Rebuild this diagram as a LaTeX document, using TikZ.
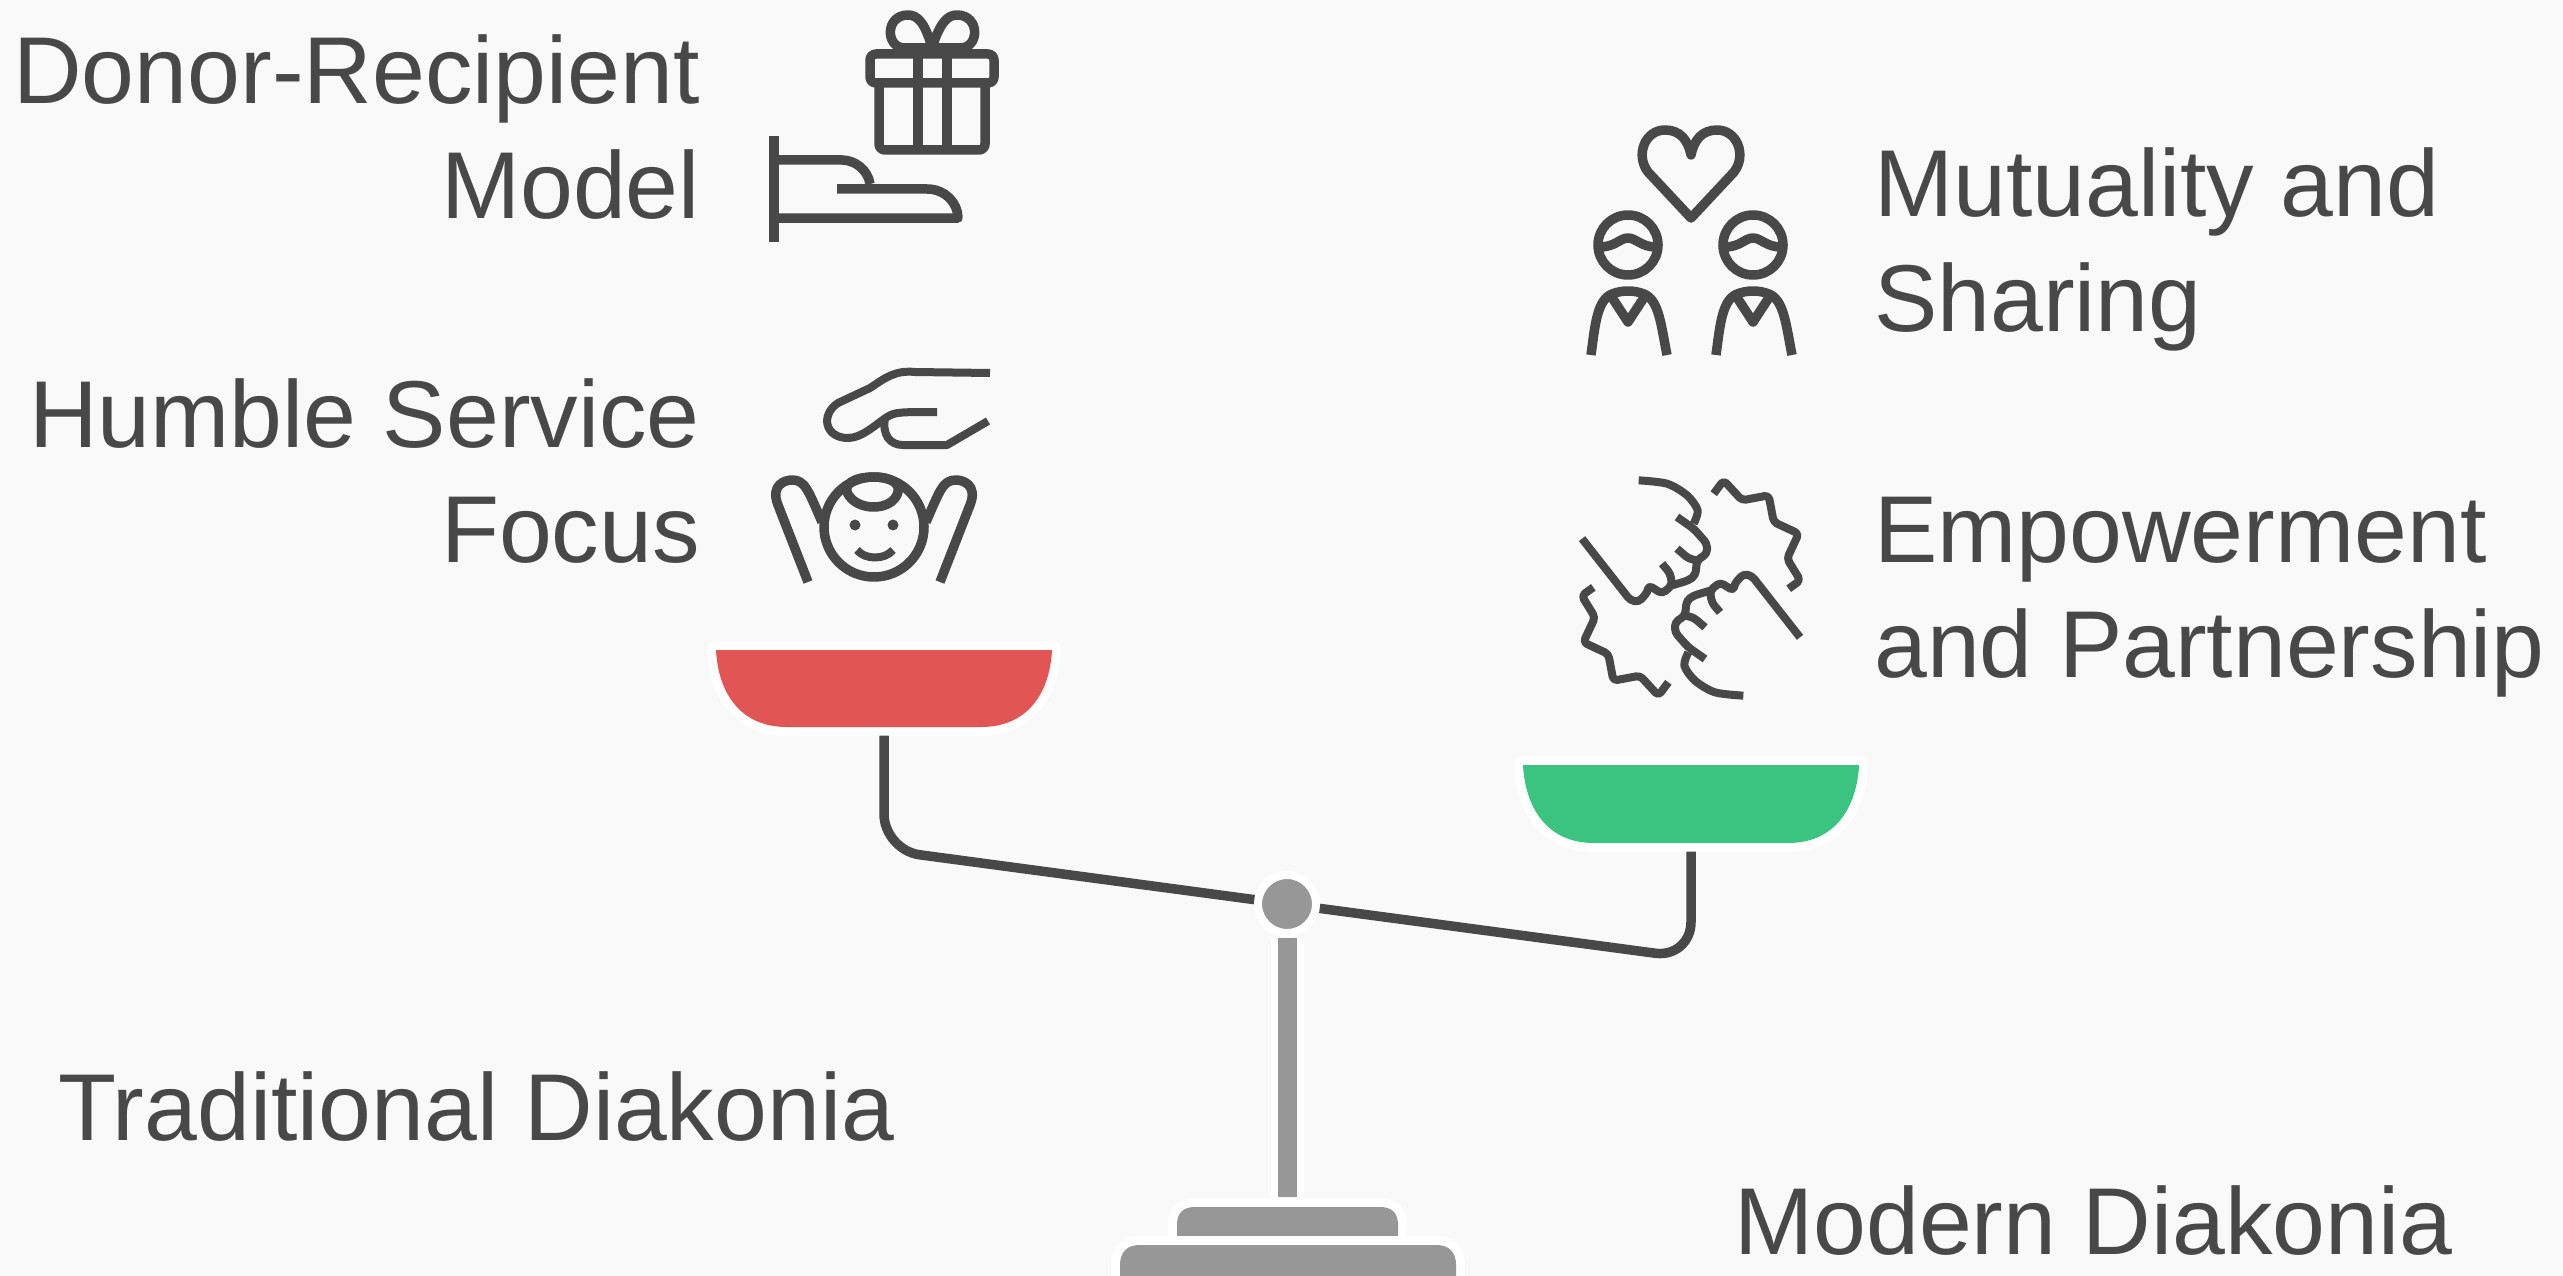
\documentclass[tikz,border=0pt]{standalone}
\usepackage{fontspec}
\setmainfont{Liberation Sans}
\definecolor{pagebg}{HTML}{F9F9F9}
\definecolor{inkgray}{HTML}{484848}
\definecolor{standgray}{HTML}{979797}
\definecolor{panred}{HTML}{E15554}
\definecolor{pangreen}{HTML}{3BC480}
\tikzset{
    label/.style={text=inkgray, inner sep=0pt, font=\fontsize{95}{115}\selectfont},
    icon/.style={draw=inkgray, line width=9.5, line join=round},
    halo/.style={preaction={draw=white, line width=18, line join=round}},
    panbox/.style={shape=rectangle, minimum width=336, minimum height=77, inner sep=0pt, outer sep=9pt},
    beam/.style={draw=inkgray, line width=9.5, rounded corners=36},
}
\begin{document}
\begin{tikzpicture}[x=1pt, y=-1pt]
    \fill[pagebg] (0,0) rectangle (2563,1276);
    \useasboundingbox (0,0) rectangle (2563,1276);

    % labels
    \node[label, align=right, anchor=north east] (donor)  at (700,34)   {Donor-Recipient\\Model};
    \node[label, align=right, anchor=north east] (humble) at (700,378)  {Humble Service\\Focus};
    \node[label, align=left, anchor=north west]  (mutual) at (1874,147) {Mutuality and\\Sharing};
    \node[label, align=left, anchor=north west]  (empower) at (1874,497) {Empowerment\\and Partnership};
    \node[label, anchor=base west] (traditional) at (58,1140)   {Traditional Diakonia};
    \node[label, anchor=base west] (modern)      at (1734,1254) {Modern Diakonia};

    % scale
    \node[panbox] (redpan)   at (884,688)  {};
    \node[panbox] (greenpan) at (1691,804) {};
    \node[shape=circle, fill=standgray, draw=white, line width=8, minimum size=58, inner sep=0pt, outer sep=4pt] (pivot) at (1287,904) {};
    \coordinate (redbend)   at (884,850);
    \coordinate (greenbend) at (1691,958);
    \coordinate (poletop)   at (1287,938);
    \coordinate (polefoot)  at (1287,1197);

    \fill[panred, halo] (716,650) -- (1052,650) .. controls (1050,690) and (1030,727) .. (981,727)
        -- (787,727) .. controls (738,727) and (718,690) .. (716,650) -- cycle;
    \fill[pangreen, halo] (1523,765) -- (1859,765) .. controls (1857,805) and (1837,843) .. (1788,843)
        -- (1594,843) .. controls (1545,843) and (1525,805) .. (1523,765) -- cycle;
    \draw[beam] (redpan.south) -- (redbend) -- (pivot);
    \draw[beam] (pivot) -- (greenbend) -- (greenpan.south);
    \draw[standgray, line width=19, preaction={draw=white, line width=33}] (poletop) -- (polefoot);
    \fill[standgray, halo] (1177,1236) -- (1177,1225) .. controls (1177,1213) and (1183,1207) .. (1195,1207)
        -- (1380,1207) .. controls (1392,1207) and (1398,1213) .. (1398,1225) -- (1398,1236) -- cycle;
    \fill[standgray, halo] (1120,1276) -- (1120,1265) .. controls (1120,1252) and (1127,1245) .. (1140,1245)
        -- (1436,1245) .. controls (1449,1245) and (1456,1252) .. (1456,1265) -- (1456,1276) -- cycle;

    % gift on hand
    \draw[icon, rounded corners=6] (870,54) rectangle (994,83);
    \draw[icon, rounded corners=6] (879,83) -- (879,150) -- (985,150) -- (985,83);
    \draw[icon] (918,54) -- (918,150);
    \draw[icon] (947,54) -- (947,150);
    \draw[icon] (932,48) .. controls (925,22) and (917,15) .. (908,15) .. controls (885,15) and (885,48) .. (905,48) -- (960,48)
        .. controls (980,48) and (980,15) .. (957,15) .. controls (948,15) and (940,22) .. (932,48);
    \draw[icon] (774,136) -- (774,242);
    \draw[icon] (774,160) -- (842,160) .. controls (855,160) and (868,170) .. (870,184);
    \draw[icon] (837,189) -- (927,189) .. controls (945,189) and (958,203) .. (958,218) -- (774,218);

    % hand over child
    \draw[icon, line width=8] (990,373) -- (915,372) .. controls (895,370) and (885,378) .. (870,388) -- (838,403)
        .. controls (820,415) and (825,438) .. (848,438) .. controls (862,438) and (875,425) .. (887,417)
        .. controls (895,412) and (900,412) .. (937,412);
    \draw[icon, line width=8] (885,418) .. controls (882,435) and (890,445) .. (903,445) -- (947,445) -- (988,421);
    \draw[icon] (874,527) circle (50);
    \draw[icon] (874,477) .. controls (852,477) and (845,485) .. (847,492) .. controls (855,512) and (893,512) .. (898,492)
        .. controls (900,485) and (893,477) .. (874,477);
    \fill[inkgray] (855,525) circle (5.5);
    \fill[inkgray] (893,525) circle (5.5);
    \draw[icon, line width=8] (857,550) .. controls (865,560) and (885,560) .. (893,550);
    \draw[icon] (808,582) -- (778,505) .. controls (770,485) and (785,480) .. (792,480) .. controls (805,480) and (808,490) .. (822,522);
    \draw[icon] (940,582) -- (970,505) .. controls (978,485) and (963,480) .. (956,480) .. controls (943,480) and (940,490) .. (926,522);

    % heart and two people
    \draw[icon] (1691,218) -- (1648,172) .. controls (1635,155) and (1645,130) .. (1665,130)
        .. controls (1680,130) and (1688,140) .. (1691,155) .. controls (1694,140) and (1702,130) .. (1717,130)
        .. controls (1737,130) and (1747,155) .. (1734,172) -- cycle;
    \foreach \dx in {0,125} {
        \begin{scope}[xshift=\dx]
            \draw[icon] (1628,245) circle (30);
            \draw[icon] (1600,247) .. controls (1615,247) and (1620,238) .. (1628,238) .. controls (1636,238) and (1641,247) .. (1656,247);
            \draw[icon] (1591,355) .. controls (1595,325) and (1597,300) .. (1612,294) .. controls (1622,290) and (1634,290) .. (1644,294)
                .. controls (1659,300) and (1661,325) .. (1667,355);
            \draw[icon] (1611,296) -- (1628,322) -- (1645,296);
        \end{scope}
    }

    % joined hands
    \foreach \turn in {0,180} {
        \begin{scope}[shift={(1691,588)}, rotate=\turn, x=.3333pt, y=-.3333pt, shift={(-392,-383)}]
            \draw[icon, line width=8] plot[smooth, tension=.5] coordinates {(235,60) (320,70) (380,105) (412,150) (400,190)};
            \draw[icon, line width=8, rounded corners=4] (350,170) -- (400,205) -- (440,250) -- (440,280) -- (410,300) -- (405,345) -- (385,360) -- (335,375);
            \draw[icon, line width=8, rounded corners=4] (350,265) -- (385,295) -- (410,300);
            \draw[icon, line width=8, rounded corners=4] (305,310) -- (330,340) -- (335,375) -- (305,400) -- (265,375) -- (262,395) -- (235,425) -- (210,420) -- (65,235);
            \draw[icon, line width=8, rounded corners=4] (460,100) -- (490,60) -- (545,120) -- (625,105) -- (640,185) -- (715,220) -- (680,295) -- (720,360) -- (685,385);
        \end{scope}
    }
\end{tikzpicture}
\end{document}
